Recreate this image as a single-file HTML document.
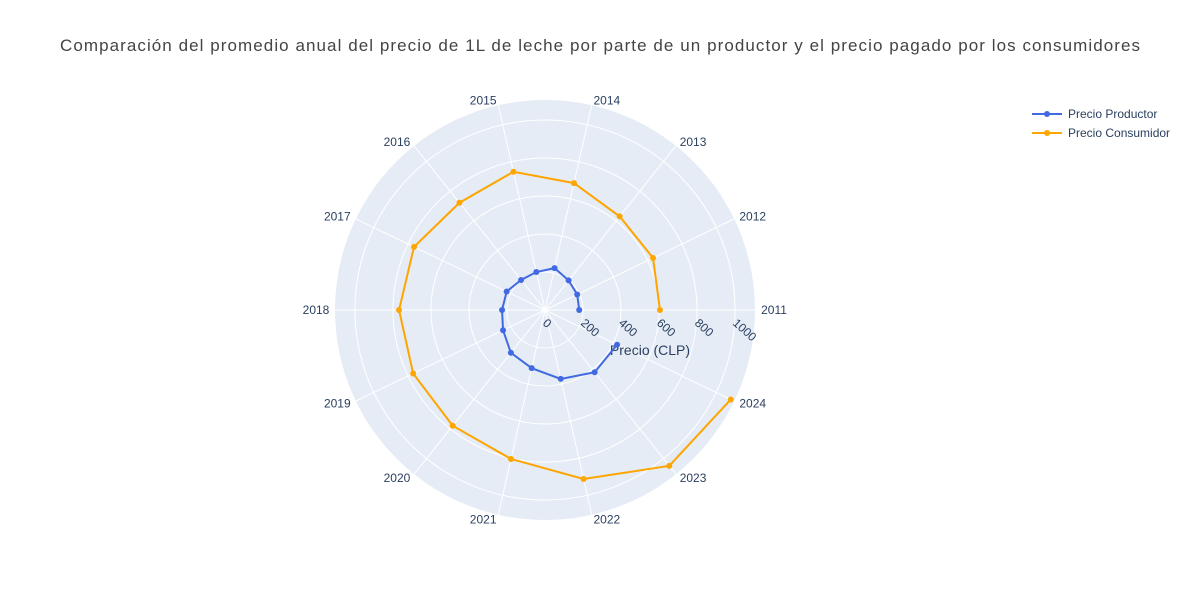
<!DOCTYPE html>
<html><head><meta charset="utf-8"><style>body{margin:0;background:#fff}svg{font-family:"Liberation Sans",sans-serif}</style></head>
<body>
<svg id="c" width="1200" height="600"></svg>
<script>
const years=['2011','2012','2013','2014','2015','2016','2017','2018','2019','2020','2021','2022','2023','2024'];
const productor=[180,188,199,226,205,202,224,226,245,288,314,372,419,421];
const consumidor=[605,631,630,685,746,722,765,768,770,779,804,912,1049,1085];
const radialTicks=[0,200,400,600,800,1000];
const rMax=1105;
const cx=545,cy=310,R=210;
const svg=document.getElementById('c');const NS='http://www.w3.org/2000/svg';
function el(t,a,p){const e=document.createElementNS(NS,t);for(const k in a)e.setAttribute(k,a[k]);(p||svg).appendChild(e);return e;}
const rs=v=>v/rMax*R;
const ang=i=>i*2*Math.PI/years.length;
const pt=(i,v)=>[cx+rs(v)*Math.cos(ang(i)),cy-rs(v)*Math.sin(ang(i))];
let t=el('text',{x:600,y:51,'text-anchor':'middle','font-size':17,fill:'#444',textLength:1080,lengthAdjust:'spacing'});t.textContent='Comparación del promedio anual del precio de 1L de leche por parte de un productor y el precio pagado por los consumidores';

let bg=el('circle',{cx,cy,r:R,fill:'#e5ecf6'});
radialTicks.slice(1).forEach(v=>{let c=el('circle',{cx,cy,r:rs(v),fill:'none',stroke:'#fff','stroke-width':1});});
years.forEach((y,i)=>{const a=ang(i);let l=el('line',{x1:cx,y1:cy,x2:cx+R*Math.cos(a),y2:cy-R*Math.sin(a),stroke:'#fff','stroke-width':1});
const c=Math.cos(a),s=Math.sin(a);const lx=cx+215*c+(Math.abs(c)>0.05?14*Math.sign(c):0),ly=cy-215*s+4;
let tx=el('text',{x:lx,y:ly,'text-anchor':'middle','font-size':12,fill:'#2a3f5f'});
tx.textContent=y;});
radialTicks.forEach(v=>{const x=cx+rs(v)-3,y=cy+14;let tx=el('text',{x,y,'font-size':12,fill:'#2a3f5f',transform:`rotate(42 ${x} ${y})`});tx.textContent=v;});
let at=el('text',{x:650,y:355,'text-anchor':'middle','font-size':14,fill:'#2a3f5f'});at.textContent='Precio (CLP)';
function series(vals,color,name){const pts=vals.map((v,i)=>pt(i,v));let p=el('polyline',{points:pts.map(q=>q.join(',')).join(' '),fill:'none',stroke:color,'stroke-width':2});
pts.forEach(q=>{let c=el('circle',{cx:q[0],cy:q[1],r:3,fill:color});});}
series(productor,'#4169e1','productor');series(consumidor,'#ffa500','consumidor');
[['Precio Productor','#4169e1',114],['Precio Consumidor','#ffa500',133]].forEach(([n,c,y])=>{const g=el('g',{});
el('line',{x1:1032,y1:y,x2:1062,y2:y,stroke:c,'stroke-width':2},g);el('circle',{cx:1047,cy:y,r:3,fill:c},g);let tx=el('text',{x:1068,y:y+4,'font-size':12,fill:'#2a3f5f'},g);tx.textContent=n;});
</script>
</body></html>
